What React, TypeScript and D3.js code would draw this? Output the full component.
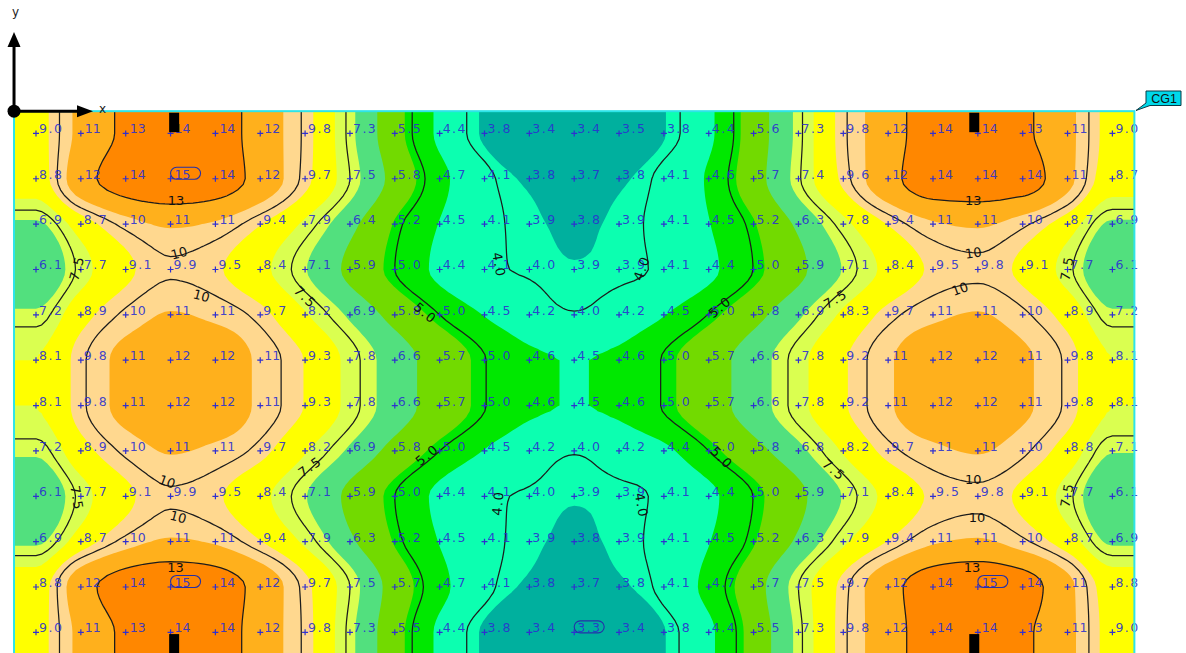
import React, { useMemo } from "react";
import * as d3 from "d3";

// Illuminance readings on the calculation grid, one array per grid row.
const row0 = [9.0, 11.4, 13.4, 14.2, 14.0, 12.0, 9.8, 7.3, 5.5, 4.4, 3.8, 3.4, 3.4, 3.5, 3.84, 4.4, 5.6, 7.3, 9.8, 12.0, 14.0, 14.2, 13.4, 11.4, 9.0];
const row1 = [8.8, 12.1, 14.2, 14.9, 14.3, 12.2, 9.7, 7.5, 5.8, 4.7, 4.1, 3.8, 3.7, 3.8, 4.1, 4.6, 5.7, 7.4, 9.6, 12.2, 14.3, 14.4, 14.1, 11.4, 8.7];
const row2 = [6.9, 8.7, 10.3, 11.1, 10.7, 9.4, 7.9, 6.4, 5.15, 4.5, 4.1, 3.92, 3.8, 3.92, 4.1, 4.5, 5.15, 6.3, 7.8, 9.4, 10.7, 11.1, 10.2, 8.7, 6.9];
const row3 = [6.14, 7.7, 9.1, 9.9, 9.5, 8.4, 7.1, 5.9, 5.0, 4.4, 4.06, 3.97, 3.88, 3.94, 4.06, 4.4, 5.01, 5.9, 7.1, 8.4, 9.5, 9.8, 9.1, 7.7, 6.14];
const row4 = [7.2, 8.9, 10.2, 11.0, 10.6, 9.7, 8.2, 6.9, 5.8, 5.0, 4.5, 4.2, 4.02, 4.2, 4.5, 5.02, 5.8, 6.9, 8.3, 9.7, 10.6, 11.0, 10.2, 8.9, 7.2];
const row5 = [8.1, 9.8, 11.4, 12.0, 12.0, 10.6, 9.3, 7.8, 6.6, 5.7, 5.02, 4.6, 4.51, 4.6, 5.04, 5.7, 6.6, 7.8, 9.2, 10.7, 12.0, 12.0, 11.2, 9.8, 8.1];
const row6 = [8.1, 9.8, 11.4, 12.0, 12.0, 10.6, 9.3, 7.8, 6.6, 5.7, 5.02, 4.6, 4.51, 4.6, 5.04, 5.7, 6.6, 7.8, 9.2, 10.7, 12.0, 12.0, 11.2, 9.8, 8.1];
const row7 = [7.2, 8.9, 10.2, 11.0, 10.6, 9.7, 8.2, 6.9, 5.8, 5.0, 4.5, 4.2, 4.02, 4.2, 4.4, 5.0, 5.8, 6.8, 8.2, 9.7, 10.6, 11.0, 10.2, 8.8, 7.1];
const row8 = [6.14, 7.7, 9.1, 9.9, 9.5, 8.4, 7.1, 5.9, 5.0, 4.4, 4.06, 3.97, 3.88, 3.94, 4.06, 4.4, 5.01, 5.9, 7.1, 8.4, 9.5, 9.8, 9.1, 7.7, 6.14];
const row9 = [6.9, 8.7, 10.3, 11.1, 10.7, 9.4, 7.9, 6.3, 5.15, 4.5, 4.1, 3.92, 3.8, 3.92, 4.1, 4.5, 5.15, 6.3, 7.9, 9.4, 10.7, 11.1, 10.2, 8.7, 6.9];
const row10 = [8.8, 12.1, 14.2, 14.9, 14.3, 12.2, 9.7, 7.5, 5.7, 4.7, 4.1, 3.8, 3.7, 3.8, 4.1, 4.7, 5.7, 7.5, 9.7, 12.2, 14.3, 14.9, 14.1, 11.4, 8.8];
const row11 = [9.0, 11.4, 13.4, 14.2, 14.0, 12.0, 9.8, 7.3, 5.5, 4.4, 3.8, 3.4, 3.3, 3.4, 3.84, 4.4, 5.5, 7.3, 9.8, 12.0, 14.0, 14.2, 13.4, 11.4, 9.0];
const grid = [row0, row1, row2, row3, row4, row5, row6, row7, row8, row9, row10, row11];

const bandThresholds = [3.86, 4.52, 5.2, 6.12, 7.05, 8.1, 9.35, 10.9, 13];
const bandColors = ["#00b09e", "#0cffb0", "#00e800", "#72da00", "#52e07e", "#daff50", "#ffff00", "#ffd88f", "#ffb01c", "#ff8700"];
const isolines = [4, 5, 7.5, 10, 13];

// Contour annotations: text, grid column, grid row, rotation.
const contourLabels: [string, number, number, number][] = [
  ["13", 3.12, 1.47, 0], ["10", 3.19, 2.64, -15], ["10", 3.69, 3.58, 15],
  ["7.5", 0.91, 2.97, -75], ["7.5", 6.0, 3.61, 45], ["5.0", 8.68, 3.96, 40],
  ["4.0", 10.32, 2.9, 80], ["4.0", 13.51, 2.97, -70], ["5.0", 15.25, 3.83, -40],
  ["7.5", 17.83, 3.65, -30], ["10", 20.9, 2.64, -8], ["10", 20.6, 3.43, -20],
  ["13", 20.9, 1.47, 0], ["7.5", 22.99, 2.97, -80],
  ["5.0", 8.72, 7.09, -40], ["4.0", 10.3, 8.15, -85], ["4.0", 13.5, 8.2, 80], ["5.0", 15.29, 7.15, 45],
  ["10", 2.92, 7.68, 20], ["10", 3.17, 8.46, 15], ["13", 3.11, 9.58, 0],
  ["7.5", 0.91, 8.04, 80], ["7.5", 6.11, 7.35, -35],
  ["10", 20.9, 7.64, 0], ["10", 20.98, 8.46, 0], ["13", 20.87, 9.58, 0],
  ["7.5", 17.79, 7.42, 40], ["7.5", 22.99, 7.97, -80],
];

// Highlighted extreme values: grid row, grid column.
const extremes: [number, number][] = [[1, 3], [10, 3], [10, 21], [11, 12]];
// Luminaires: grid column, edge.
const luminaires: [number, string][] = [[3.08, "top"], [20.92, "top"], [3.08, "bottom"], [20.92, "bottom"]];

const W = 1186, H = 653;
const nCols = grid[0].length, nRows = grid.length;
const cw = 44.85, ch = 45.36;
const x = d3.scaleLinear().domain([0, nCols - 1]).range([36, 36 + cw * (nCols - 1)]);
const y = d3.scaleLinear().domain([0, nRows - 1]).range([133.4, 133.4 + ch * (nRows - 1)]);
const left = x(-0.49), right = x(nCols - 1 + 0.49), top = y(-0.49), bottom = y(nRows - 1 + 0.49);

// Monotone cubic: no overshoot between grid readings.
const slope = (a: number, b: number, c: number) => {
  if ((b - a) * (c - b) <= 0) return 0;
  const m = (c - a) / 2;
  const lim = 2 * Math.min(Math.abs(b - a), Math.abs(c - b));
  return Math.sign(m) * Math.min(Math.abs(m), lim);
};
const cr = (a: number, b: number, c: number, d: number, t: number) => {
  const m0 = slope(a, b, c), m1 = slope(b, c, d);
  const t2 = t * t, t3 = t2 * t;
  return (2 * t3 - 3 * t2 + 1) * b + (t3 - 2 * t2 + t) * m0 + (-2 * t3 + 3 * t2) * c + (t3 - t2) * m1;
};
const at = (r: number, c: number) =>
  grid[Math.max(0, Math.min(nRows - 1, r))][Math.max(0, Math.min(nCols - 1, c))];
function sample(r: number, c: number) {
  const r0 = Math.floor(r), c0 = Math.floor(c), tr = r - r0, tc = c - c0;
  const rowsAt = [-1, 0, 1, 2].map((dr) =>
    cr(at(r0 + dr, c0 - 1), at(r0 + dr, c0), at(r0 + dr, c0 + 1), at(r0 + dr, c0 + 2), tc)
  );
  return cr(rowsAt[0], rowsAt[1], rowsAt[2], rowsAt[3], tr);
}

const fmt = (v: number) => (v >= 10 ? String(Math.round(v)) : v.toFixed(1));
const LABEL_FONT = "'DejaVu Sans', sans-serif";

export default function App() {
  const { bands, lines } = useMemo(() => {
    const k = 8;
    const gw = (nCols + 1) * k + 1, gh = (nRows + 1) * k + 1;
    const values: number[] = new Array(gw * gh);
    for (let j = 0; j < gh; j++)
      for (let i = 0; i < gw; i++) values[j * gw + i] = sample(-1 + j / k, -1 + i / k);
    const gen = d3.contours().size([gw, gh]).smooth(true);
    const project = d3.geoTransform({
      point(px: number, py: number) {
        (this as any).stream.point(x(-1 + (px - 0.5) / k), y(-1 + (py - 0.5) / k));
      },
    });
    const path = d3.geoPath(project);
    return {
      bands: bandThresholds.map((t) => path(gen.contour(values, t)) || ""),
      lines: isolines.map((t) => path(gen.contour(values, t)) || ""),
    };
  }, []);

  return (
    <svg width={W} height={H} style={{ position: "fixed", left: 0, top: 0, display: "block", background: "#fff" }}>
      <defs>
        <clipPath id="plot"><rect x={left} y={top} width={right - left} height={bottom - top} /></clipPath>
      </defs>
      <g clipPath="url(#plot)">
        <rect x={left} y={top} width={right - left} height={bottom - top} fill={bandColors[0]} />
        {bands.map((d, i) => <path key={i} d={d} fill={bandColors[i + 1]} />)}
        {lines.map((d, i) => <path key={i} d={d} fill="none" stroke="#1c1c1c" strokeWidth={1.25} />)}
      </g>
      {grid.map((vals, r) =>
        vals.map((v, c) => {
          const px = x(c), py = y(r);
          return (
            <g key={`${r}-${c}`}>
              <path d={`M${px - 3},${py}H${px + 3}M${px},${py - 3}V${py + 3}`} stroke="#2f2fd0" strokeWidth={1.2} fill="none" />
              <text x={px + (v >= 10 ? 4 : 3)} y={py} fontFamily={LABEL_FONT} fontSize={12.5} letterSpacing={v >= 10 ? 0 : 1.5} fill="#2a30d0" fillOpacity={0.9}>
                {fmt(v)}
              </text>
            </g>
          );
        })
      )}
      {extremes.map(([r, c], i) => (
        <rect key={i} x={x(c)} y={y(r) - 11.5} width={30} height={12} rx={6} fill="none" stroke="#2430a8" strokeWidth={1.1} />
      ))}
      {contourLabels.map(([t, c, r, a], i) => (
        <text key={i} x={0} y={0} transform={`translate(${x(c)},${y(r)}) rotate(${a})`} textAnchor="middle" dominantBaseline="central"
          fontFamily={LABEL_FONT} fontSize={13} letterSpacing={t.length > 2 ? 1.5 : 0} fill="#111">
          {t}
        </text>
      ))}
      {luminaires.map(([c, edge], i) => (
        <rect key={i} x={x(c) - 5} y={edge === "top" ? top + 1.5 : bottom - 20.5} width={10} height={19.5} fill="#000" />
      ))}
      <rect x={left} y={top} width={right - left} height={bottom - top} fill="none" stroke="#2ee4e8" strokeWidth={2} />
      {/* axes */}
      <path d={`M${left},${top}V46`} stroke="#000" strokeWidth={3} />
      <path d={`M${left},${top}H80`} stroke="#000" strokeWidth={3} />
      <path d={`M${left},32L${left + 6.5},47H${left - 6.5}Z`} fill="#000" />
      <path d={`M93,${top}L77,${top - 6}V${top + 6}Z`} fill="#000" />
      <circle cx={left} cy={top} r={6.5} fill="#000" />
      <text x={12} y={16} fontFamily={LABEL_FONT} fontSize={12} fill="#222">y</text>
      <text x={99} y={113} fontFamily={LABEL_FONT} fontSize={12} fill="#222">x</text>
      {/* calculation surface tag */}
      <path d="M1146,91H1181V105.5H1150L1136,110.5L1146,103Z" fill="#00d8ea" stroke="#0b3a44" strokeWidth={1} />
      <text x={1164} y={103} textAnchor="middle" fontFamily="Liberation Sans, sans-serif" fontSize={12.5} fill="#111">CG1</text>
    </svg>
  );
}
